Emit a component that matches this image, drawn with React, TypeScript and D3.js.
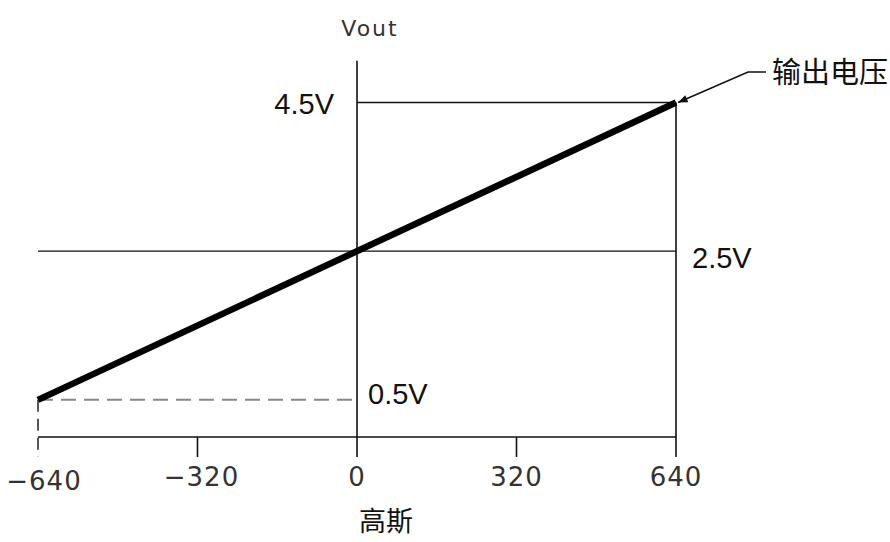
import React from 'react';
import * as d3 from 'd3';

// gauss in, volts out
const gauss = [-640, 640];
const vout = [0.5, 4.5];
const xTicks = [-640, -320, 0, 320, 640];
const vLabels = ['0.5V', '2.5V', '4.5V'];
const xTitle = '高斯';
const yTitle = 'Vout';
const callout = '输出电压';

const W = 890;
const H = 542;

export default function App() {
  const x = d3.scaleLinear().domain([-640, 640]).range([38, 676]);
  const y = d3.scaleLinear().domain([0, 4.5]).range([437, 102.5]);

  const line = d3.line<number>()
    .x((d, i) => x(gauss[i]))
    .y(d => y(d));

  const x0 = x(0);
  const xMin = x(gauss[0]);
  const xMax = x(gauss[1]);
  const yAxis = y(0);
  const tickEnd = yAxis + 20;
  const yTop = y(5.06);

  const tipX = xMax;
  const tipY = y(vout[1]);

  const numFont = '"DejaVu Sans", sans-serif';
  const latin = '"Liberation Sans", Arial, sans-serif';
  const cjk = '"Noto Sans CJK SC", sans-serif';

  return (
    <svg width={W} height={H} style={{ position: 'absolute', left: 0, top: 0, background: '#fff' }}>
      <defs>
        <marker id="arr" viewBox="0 0 10 10" refX="10" refY="5" markerWidth="11" markerHeight="6" orient="auto" markerUnits="strokeWidth">
          <path d="M0,1 L10,5 L0,9 Z" fill="#111" />
        </marker>
      </defs>

      {/* frame lines */}
      <g stroke="#111" strokeWidth={1.6} fill="none">
        <line x1={xMin} x2={xMax} y1={yAxis} y2={yAxis} />
        <line x1={x0} x2={x0} y1={yTop} y2={tickEnd} />
        <line x1={xMax} x2={xMax} y1={y(4.5)} y2={tickEnd} />
        <line x1={x0} x2={xMax} y1={y(4.5)} y2={y(4.5)} />
        <line x1={xMin} x2={xMax} y1={y(2.5)} y2={y(2.5)} strokeWidth={1.3} />
        {xTicks.filter(t => t !== -640 && t !== 0 && t !== 640).map(t => (
          <line key={t} x1={x(t)} x2={x(t)} y1={yAxis} y2={tickEnd} />
        ))}
      </g>

      {/* dashed guides at -640 / 0.5V */}
      <line x1={xMin} x2={x0} y1={y(0.5)} y2={y(0.5)} stroke="#888" strokeWidth={2} strokeDasharray="15 8" />
      <line x1={xMin} x2={xMin} y1={y(0.5)} y2={tickEnd} stroke="#111" strokeWidth={1.4} strokeDasharray="12 7" />

      {/* output line */}
      <path d={line(vout) || ''} stroke="#000" strokeWidth={6.5} fill="none" />

      {/* callout */}
      <polyline
        points={`${766},${72} ${748},${72} ${tipX + 2},${tipY}`}
        fill="none"
        stroke="#111"
        strokeWidth={1.6}
        markerEnd="url(#arr)"
      />
      <text x={772} y={83} fontFamily={cjk} fontSize={29} fill="#111">{callout}</text>

      {/* tick labels */}
      {xTicks.map(t => (
        <text
          key={t}
          x={x(t) + (t === -320 ? 4 : 0) + (t === -640 ? 6 : 0)}
          y={t === -640 ? 490 : 486}
          textAnchor="middle"
          fontFamily={numFont}
          fontSize={26}
          letterSpacing={1}
          fill="#333"
        >
          {t < 0 ? '\u2212' + Math.abs(t) : String(t)}
        </text>
      ))}

      {/* voltage labels */}
      <text x={x0 - 23} y={y(4.5) + 11} textAnchor="end" fontFamily={latin} fontSize={29} fill="#111">{vLabels[2]}</text>
      <text x={xMax + 16} y={y(2.5) + 17} fontFamily={latin} fontSize={29} fill="#111">{vLabels[1]}</text>
      <text x={x0 + 11} y={y(0.5) + 4} fontFamily={latin} fontSize={29} fill="#111">{vLabels[0]}</text>

      {/* axis titles */}
      <text x={x0 + 13} y={36} textAnchor="middle" fontFamily={numFont} fontSize={22} letterSpacing={2} fill="#333">{yTitle}</text>
      <text x={386} y={531} textAnchor="middle" fontFamily={cjk} fontSize={27} fill="#111">{xTitle}</text>
    </svg>
  );
}
